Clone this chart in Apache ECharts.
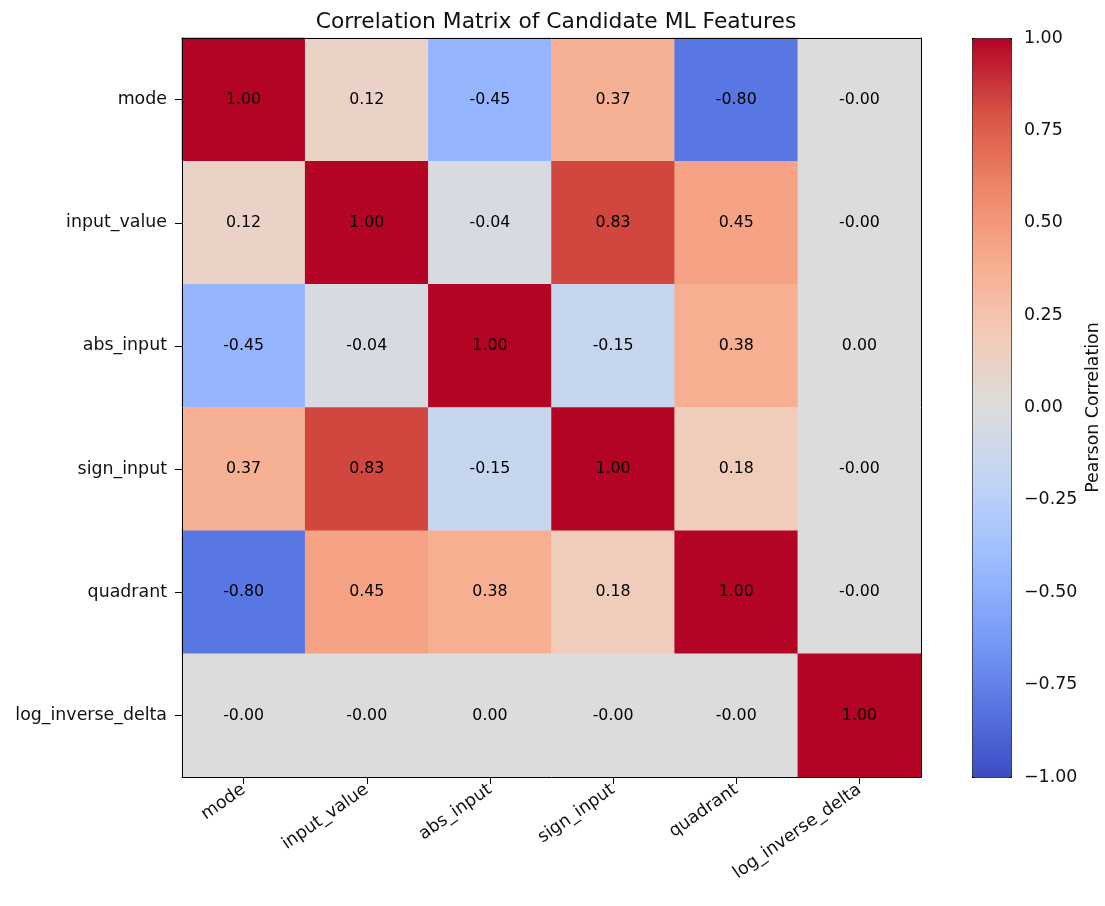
<!DOCTYPE html>
<html>
<head>
<meta charset="utf-8">
<script src="https://cdn.jsdelivr.net/npm/echarts@6/dist/echarts.min.js"></script>
<style>
  html, body { margin: 0; padding: 0; background: #fff; }
  #chart { width: 1105px; height: 906px; }
</style>
</head>
<body>
<div id="chart"></div>
<script>
// feature names (same order on both axes)
const features = ['mode', 'input_value', 'abs_input', 'sign_input', 'quadrant', 'log_inverse_delta']

// correlation rows (tiny values keep their printed sign)
const rowMode       = [1.00, 0.12, -0.45, 0.37, -0.80, -0.002]
const rowInputValue = [0.12, 1.00, -0.04, 0.83, 0.45, -0.002]
const rowAbsInput   = [-0.45, -0.04, 1.00, -0.15, 0.38, 0.002]
const rowSignInput  = [0.37, 0.83, -0.15, 1.00, 0.18, -0.002]
const rowQuadrant   = [-0.80, 0.45, 0.38, 0.18, 1.00, -0.002]
const rowLogInvDelta = [-0.002, -0.002, 0.002, -0.002, -0.002, 1.00]

const colorbarTicks = [-1, -0.75, -0.5, -0.25, 0, 0.25, 0.5, 0.75, 1]

// matplotlib coolwarm sampled at 11 points
const coolwarm = ['#3b4cc0', '#5977e3', '#7b9ff9', '#9ebeff', '#c0d4f5', '#dddcdc',
                  '#f2cbb7', '#f7ac8e', '#ee8468', '#d65244', '#b40426']

const rows = [rowMode, rowInputValue, rowAbsInput, rowSignInput, rowQuadrant, rowLogInvDelta]
const cells = []
rows.forEach((row, y) => row.forEach((v, x) => cells.push([x, y, v])))

const font = 'DejaVu Sans'
const ink = '#111'
const minus = s => s.replace('-', '\u2212')

let myChart = echarts.init(document.getElementById('chart'))
myChart.setOption({
  animation: false,
  textStyle: { fontFamily: font },
  title: {
    text: 'Correlation Matrix of Candidate ML Features',
    left: 551, top: 6, textAlign: 'center',
    textStyle: { fontFamily: font, fontSize: 21.8, fontWeight: 'normal', color: ink }
  },
  grid: [
    { left: 182, right: 184, top: 38, bottom: 129 },
    { left: 972, width: 39, top: 38, bottom: 129 }
  ],
  xAxis: [
    {
      type: 'category', data: features, gridIndex: 0, position: 'bottom', z: 5,
      axisLine: { show: true, lineStyle: { color: '#000', width: 1 } },
      axisTick: { show: true, alignWithLabel: true, length: 7, lineStyle: { color: '#000' } },
      axisLabel: { rotate: 35, fontSize: 17.4, color: ink, margin: 11, fontFamily: font },
      splitLine: { show: false }
    },
    {
      type: 'category', data: features, gridIndex: 0, position: 'top', z: 5,
      axisLine: { show: true, lineStyle: { color: '#000', width: 1 } },
      axisTick: { show: false }, axisLabel: { show: false }
    },
    { type: 'value', gridIndex: 1, show: false, min: 0, max: 1 }
  ],
  yAxis: [
    {
      type: 'category', data: features, gridIndex: 0, inverse: true, z: 5,
      axisLine: { show: true, lineStyle: { color: '#000', width: 1 } },
      axisTick: { show: true, alignWithLabel: true, length: 7, lineStyle: { color: '#000' } },
      axisLabel: { fontSize: 17.4, color: ink, margin: 15, fontFamily: font },
      splitLine: { show: false }
    },
    {
      type: 'category', data: features, gridIndex: 0, inverse: true, position: 'right', z: 5,
      axisLine: { show: true, lineStyle: { color: '#000', width: 1 } },
      axisTick: { show: false }, axisLabel: { show: false }
    },
    {
      type: 'value', gridIndex: 1, position: 'right',
      min: colorbarTicks[0], max: colorbarTicks[colorbarTicks.length - 1], interval: 0.25,
      axisLine: { show: false },
      axisTick: { show: true, length: 7, lineStyle: { color: '#000' } },
      axisLabel: {
        fontSize: 17.4, color: ink, margin: 13, fontFamily: font,
        formatter: v => minus(v.toFixed(2))
      },
      splitLine: { show: false },
      name: 'Pearson Correlation', nameLocation: 'middle', nameRotate: 90, nameGap: 74,
      nameTextStyle: { fontSize: 17.4, color: ink, fontFamily: font }
    }
  ],
  visualMap: {
    type: 'continuous', min: -1, max: 1, dimension: 2, seriesIndex: 0,
    calculable: false, hoverLink: false,
    left: 972, top: 38, itemWidth: 39, itemHeight: 739, padding: 0,
    borderColor: '#000', borderWidth: 1,
    inRange: { color: coolwarm }
  },
  series: [{
    type: 'heatmap', xAxisIndex: 0, yAxisIndex: 0,
    data: cells,
    itemStyle: { borderWidth: 0 },
    label: {
      show: true, fontSize: 15.8, color: '#000', fontFamily: font,
      formatter: p => p.value[2].toFixed(2)
    },
    emphasis: { disabled: true }
  }]
})
</script>
</body>
</html>
